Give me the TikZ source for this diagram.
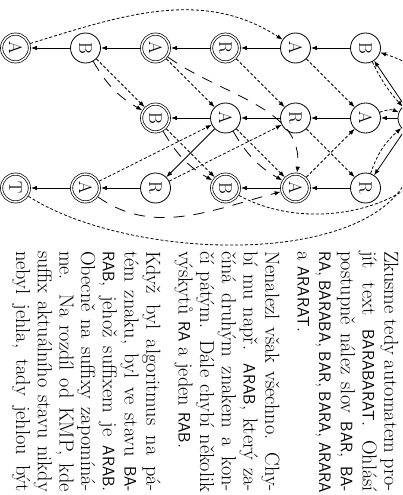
\documentclass[tikz,border=0pt]{standalone}
\usepackage{fontspec}
\usetikzlibrary{arrows.meta}
\newcommand\txtfont{\fontsize{20.3}{21.7}\selectfont}
\newcommand\lblfont{\fontsize{18.08}{21.7}\selectfont}
\newcommand\sfw[1]{{\fontsize{16.6}{21.7}\selectfont\sffamily #1}}
\newcommand\lw{241pt}
\begin{document}
\begin{tikzpicture}[x=1pt,y=1pt,
  st/.style={circle, draw, line width=0.8pt, minimum size=30pt, inner sep=0pt, font=\lblfont, rotate=-90},
  acc/.style={circle, draw, line width=0.7pt, double, double distance=1.5pt, minimum size=27.8pt, inner sep=0pt, outer sep=1.5pt, font=\lblfont, rotate=-90},
  trie/.style={line width=0.8pt, -{Latex[length=6pt,width=4.5pt]}},
  fail/.style={line width=0.8pt, dash pattern=on 3pt off 2pt, -{Latex[length=6pt,width=4.5pt]}},
  outl/.style={line width=0.8pt, dash pattern=on 11pt off 9pt, -{Latex[length=6pt,width=4.5pt]}},
  txt/.style={rotate=-90, anchor=base west, inner sep=0pt, outer sep=0pt, font=\txtfont}]
\useasboundingbox (0,0) rectangle (402,-495);
\clip (0,0) rectangle (402,-495);
% states
\node[st]  (root)   at (413,-118) {};
\node[st]  (B1)     at (365.5,-48) {B};
\node[st]  (A1)     at (365.5,-118) {A};
\node[st]  (R1)     at (365.5,-188) {R};
\node[st]  (BA)     at (295.5,-48) {A};
\node[st]  (AR)     at (295.5,-118) {R};
\node[acc] (RA)     at (295.5,-188) {A};
\node[acc] (BAR)    at (225.5,-48) {R};
\node[st]  (ARA)    at (225.5,-118) {A};
\node[acc] (RAB)    at (225.5,-188) {B};
\node[acc] (BARA)   at (155.5,-48) {A};
\node[acc] (ARAB)   at (155.5,-118) {B};
\node[st]  (ARAR)   at (155.5,-188) {R};
\node[st]  (BARAB)  at (85.5,-48) {B};
\node[acc] (ARARA)  at (85.5,-188) {A};
\node[acc] (BARABA) at (15.5,-48) {A};
\node[acc] (ARARAT) at (15.5,-188) {T};
% trie edges
\draw[trie] (root) -- (B1);
\draw[trie] (root) -- (A1);
\draw[trie] (root) -- (R1);
\draw[trie] (B1) -- (BA);
\draw[trie] (BA) -- (BAR);
\draw[trie] (BAR) -- (BARA);
\draw[trie] (BARA) -- (BARAB);
\draw[trie] (BARAB) -- (BARABA);
\draw[trie] (A1) -- (AR);
\draw[trie] (AR) -- (ARA);
\draw[trie] (ARA) -- (ARAB);
\draw[trie] (ARA) -- (ARAR);
\draw[trie] (ARAR) -- (ARARA);
\draw[trie] (ARARA) -- (ARARAT);
\draw[trie] (R1) -- (RA);
\draw[trie] (RA) -- (RAB);
% failure edges
\draw[fail] (B1) to[bend right=8] (root);
\draw[fail] (A1) to[bend left=22] (root);
\draw[fail] (R1) to[bend left=15] (root);
\draw[fail] (BA) -- (A1);
\draw[fail] (AR) -- (R1);
\draw[fail] (RA) -- (A1);
\draw[fail] (BAR) -- (AR);
\draw[fail] (ARA) -- (RA);
\draw[fail] (BARA) -- (ARA);
\draw[fail] (ARAB) -- (RAB);
\draw[fail] (ARAR) -- (AR);
\draw[fail] (BARAB) -- (ARAB);
\draw[fail] (ARARA) -- (ARA);
\draw[fail] (BARABA) to[out=25,in=155] (BA);
\draw[fail] (ARARAT) .. controls (140,-268) and (425,-270) .. (root);
\coordinate (loop) at (445,-125);
\draw[fail] (RAB) .. controls (320,-240) and (445,-200) .. (loop) .. controls (445,-80) and (410,-62) .. (B1);
% output edges
\draw[outl] (ARA) to[bend right=15] (RA);
\draw[outl] (ARAB) to[bend right=15] (RAB);
\draw[outl] (BARAB) to[bend right=15] (ARAB);
\draw[outl] (BARA) to[out=-25,in=95] (RA);
\draw[outl] (ARARA) to[out=-25,in=-155] (RA);
% text
\node[txt] (t1)  at (384.3,-251) {\makebox[\lw][s]{Zkusme tedy automatem pro-}};
\node[txt] (t2)  at (362.6,-251) {\makebox[\lw][s]{jít text \sfw{BARABARAT}. Ohlásí}};
\node[txt] (t3)  at (340.9,-251) {\makebox[\lw][s]{postupně nález slov \sfw{BAR}, \sfw{BA-}}};
\node[txt] (t4)  at (319.2,-251) {\makebox[\lw][s]{\sfw{RA}, \sfw{BARABA}, \sfw{BAR}, \sfw{BARA}, \sfw{ARARA}}};
\node[txt] (t5)  at (297.5,-251) {a \sfw{ARARAT}.};
\node[txt] (t6)  at (265.3,-251) {\makebox[\lw][s]{Nenalezl však všechno. Chy-}};
\node[txt] (t7)  at (243.6,-251) {\makebox[\lw][s]{bí mu např. \sfw{ARAB}, který za-}};
\node[txt] (t8)  at (221.9,-251) {\makebox[\lw][s]{číná druhým znakem a kon-}};
\node[txt] (t9)  at (200.2,-251) {\makebox[\lw][s]{čí pátým. Dále chybí několik}};
\node[txt] (t10) at (178.5,-251) {výskytů \sfw{RA} a jeden \sfw{RAB}.};
\node[txt] (t11) at (146.3,-251) {\makebox[\lw][s]{Když byl algoritmus na pá-}};
\node[txt] (t12) at (124.6,-251) {\makebox[\lw][s]{tém znaku, byl ve stavu \sfw{BA-}}};
\node[txt] (t13) at (102.9,-251) {\makebox[\lw][s]{\sfw{RAB}, jehož suffixem je \sfw{ARAB}.}};
\node[txt] (t14) at (81.2,-251)  {\makebox[\lw][s]{Obecně na suffixy zapomíná-}};
\node[txt] (t15) at (59.5,-251)  {\makebox[\lw][s]{me. Na rozdíl od KMP, kde}};
\node[txt] (t16) at (37.8,-251)  {\makebox[\lw][s]{suffix aktuálního stavu nikdy}};
\node[txt] (t17) at (16.1,-251)  {\makebox[\lw][s]{nebyl jehla, tady jehlou být}};
\end{tikzpicture}
\end{document}
